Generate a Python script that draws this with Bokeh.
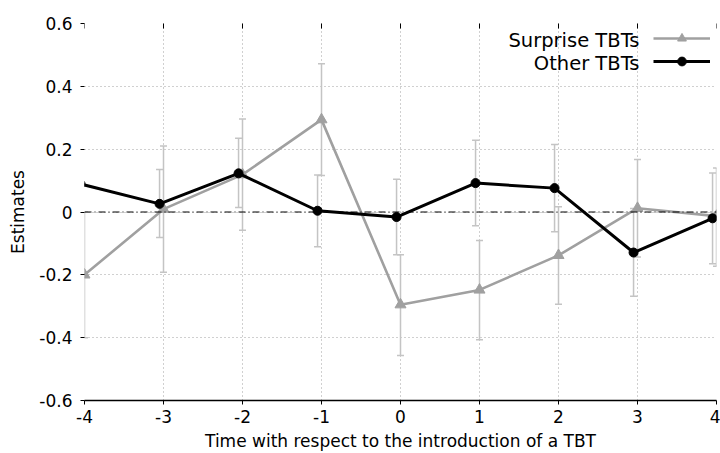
from bokeh.plotting import figure
from bokeh.models import (ColumnDataSource, Whisker, TeeHead, Span, Range1d, FixedTicker,
                          Legend, LegendItem, Label)
from bokeh.embed import file_html
from bokeh.resources import INLINE

# ---- data ----
times = [-4, -3, -2, -1, 0, 1, 2, 3, 4]
x_tick_labels = ["-4", "-3", "-2", "-1", "0", "1", "2", "3", "4"]
y_ticks = [-0.6, -0.4, -0.2, 0, 0.2, 0.4, 0.6]
y_tick_labels = ["-0.6", "-0.4", "-0.2", "0", "0.2", "0.4", "0.6"]

surprise_est = [-0.200, 0.009, 0.119, 0.294, -0.295, -0.248, -0.138, 0.012, -0.013]
surprise_upper = [0.000, 0.210, 0.296, 0.472, -0.136, -0.091, 0.017, 0.167, 0.140]
surprise_lower = [-0.400, -0.192, -0.058, 0.116, -0.457, -0.407, -0.294, -0.143, -0.173]

other_est = [0.089, 0.026, 0.123, 0.004, -0.016, 0.092, 0.076, -0.129, -0.020]
other_upper = [0.196, 0.135, 0.235, 0.118, 0.104, 0.228, 0.215, 0.011, 0.124]
other_lower = [-0.013, -0.081, 0.014, -0.111, -0.136, -0.044, -0.063, -0.268, -0.165]

series_names = ["Surprise TBTs", "Other TBTs"]

# ---- style ----
OTHER_OFFSET = -0.05
FONT = "DejaVu Sans"
GRAY = "#a0a0a0"
ERR = "#c4c4c4"

p = figure(width=720, height=453, output_backend="svg", toolbar_location=None,
           x_range=Range1d(times[0], times[-1]), y_range=Range1d(y_ticks[0], y_ticks[-1]),
           min_border_left=84, min_border_right=4, min_border_top=23, min_border_bottom=51)
p.outline_line_color = None
p.background_fill_color = "white"

# grid
for g in (p.xgrid, p.ygrid):
    g.grid_line_color = GRAY
    g.grid_line_dash = "1 3"
    g.grid_line_width = 1
p.xaxis.ticker = FixedTicker(ticks=times)
p.yaxis.ticker = FixedTicker(ticks=y_ticks)
p.xgrid.ticker = FixedTicker(ticks=times)
p.ygrid.ticker = FixedTicker(ticks=y_ticks)
p.xaxis.major_label_overrides = {t: l for t, l in zip(times, x_tick_labels)}
p.yaxis.major_label_overrides = {t: l for t, l in zip(y_ticks, y_tick_labels)}

for ax in (p.xaxis, p.yaxis):
    ax.major_label_text_font = FONT
    ax.major_label_text_font_size = "17px"
    ax.major_label_text_color = "black"
    ax.axis_label_text_font = FONT
    ax.axis_label_text_font_size = "17px"
    ax.axis_label_text_font_style = "normal"
    ax.axis_label_text_color = "black"
    ax.minor_tick_line_color = None
    ax.major_tick_line_color = "black"
    ax.major_tick_in = 0
    ax.major_tick_out = 4

p.xaxis.axis_label = "Time with respect to the introduction of a TBT"
p.xaxis.axis_line_color = "black"
p.xaxis.axis_line_width = 1.5
p.xaxis.major_label_standoff = 5
p.xaxis.axis_label_standoff = 5

p.yaxis.axis_label = "Estimates"
p.yaxis.axis_line_color = None
p.yaxis.major_label_standoff = 8
p.yaxis.axis_label_standoff = 8

# inward tick marks along the top edge (half of each rect is clipped by the frame)
p.rect(x=times, y=[y_ticks[-1]] * len(times), width=1, height=10,
       width_units="screen", height_units="screen", fill_color="black", line_color=None)

# zero line
p.add_layout(Span(location=0, dimension="width", line_color="black", line_width=1,
                  line_dash="7 3 1 3"))

x_other = [t + OTHER_OFFSET for t in times]
src_s = ColumnDataSource(dict(x=times, y=surprise_est, up=surprise_upper, lo=surprise_lower))
src_o = ColumnDataSource(dict(x=x_other, y=other_est, up=other_upper, lo=other_lower))

for src in (src_s, src_o):
    w = Whisker(source=src, base="x", upper="up", lower="lo", line_color=ERR, line_width=1.5,
                upper_head=TeeHead(size=7, line_color=ERR, line_width=1.5),
                lower_head=TeeHead(size=7, line_color=ERR, line_width=1.5))
    p.add_layout(w)

ls = p.line("x", "y", source=src_s, line_color=GRAY, line_width=2.6)
ms = p.scatter("x", "y", source=src_s, marker="triangle", size=11, fill_color=GRAY, line_color=GRAY)
lo = p.line("x", "y", source=src_o, line_color="black", line_width=3)
mo = p.scatter("x", "y", source=src_o, marker="circle", size=9, fill_color="black", line_color="black")

legend = Legend(items=[LegendItem(label=" ", renderers=[ls, ms]),
                       LegendItem(label=" ", renderers=[lo, mo])],
                location=(569, 328), glyph_width=57, glyph_height=22, spacing=1,
                padding=0, margin=0, label_standoff=0, label_text_font_size="8px",
                border_line_color=None, background_fill_alpha=0, label_width=0)
p.add_layout(legend)

for name, yy in zip(series_names, [0.546, 0.473]):
    p.add_layout(Label(x=3.025, y=yy, text=name, text_align="right", text_baseline="middle",
                       text_font=FONT, text_font_size="19.5px", text_color="black"))

open("out.html", "w").write(file_html(p, INLINE))
